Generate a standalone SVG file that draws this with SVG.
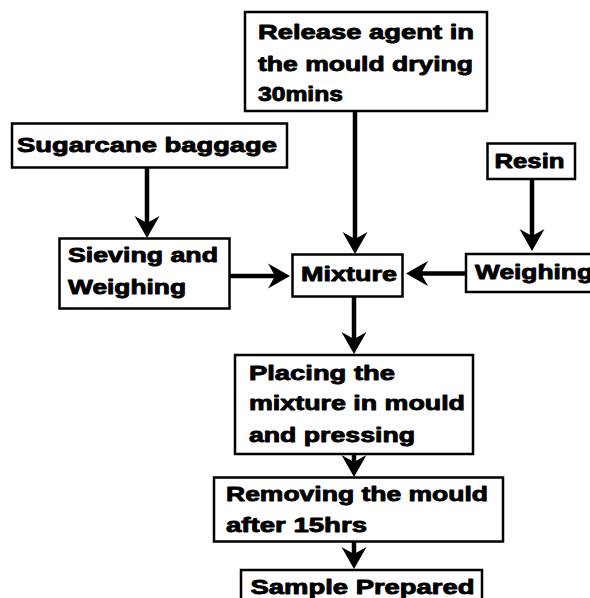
<svg xmlns="http://www.w3.org/2000/svg" width="590" height="598" viewBox="0 0 590 598">
<style>
.box{fill:#fff;stroke:#000;stroke-width:2.5}
.t{font-family:"Liberation Sans",Arial,sans-serif;font-weight:bold;font-size:21px;fill:#000;stroke:#000;stroke-width:0.9;stroke-linejoin:round}
.c{fill:none;stroke:#000;stroke-width:4.5}
</style>
<defs>
<marker id="ah" markerUnits="userSpaceOnUse" viewBox="-24 -14 25 28" markerWidth="25" markerHeight="28" refX="-14" refY="0" orient="auto">
<path d="M0,0 L-22,-12.5 L-15,0 L-22,12.5 Z" fill="#000"/>
</marker>
</defs>
<rect width="590" height="598" fill="#fff"/>
<g id="connectors">
<path class="c" d="M147,167 V224" marker-end="url(#ah)"/>
<path class="c" d="M355,111 V240" marker-end="url(#ah)"/>
<path class="c" d="M532,179 V237" marker-end="url(#ah)"/>
<path class="c" d="M229,276 H276" marker-end="url(#ah)"/>
<path class="c" d="M466,273.5 H420" marker-end="url(#ah)"/>
<path class="c" d="M354,297 V340" marker-end="url(#ah)"/>
<path class="c" d="M354,454 V463" marker-end="url(#ah)"/>
<path class="c" d="M354,542 V555" marker-end="url(#ah)"/>
</g>
<g id="release">
<rect class="box" x="245" y="12" width="242" height="99"/>
<text class="t" x="258" y="38.5" textLength="216" lengthAdjust="spacingAndGlyphs">Release agent in</text>
<text class="t" x="258" y="70.5" textLength="215" lengthAdjust="spacingAndGlyphs">the mould drying</text>
<text class="t" x="258" y="101" textLength="85" lengthAdjust="spacingAndGlyphs">30mins</text>
</g>
<g id="sugarcane">
<rect class="box" x="12" y="123.5" width="275" height="44"/>
<text class="t" x="17" y="152" textLength="260" lengthAdjust="spacingAndGlyphs">Sugarcane baggage</text>
</g>
<g id="sieving">
<rect class="box" x="59.5" y="238.5" width="170" height="70"/>
<text class="t" x="68" y="262" textLength="150" lengthAdjust="spacingAndGlyphs">Sieving and</text>
<text class="t" x="68" y="294" textLength="118" lengthAdjust="spacingAndGlyphs">Weighing</text>
</g>
<g id="mixture">
<rect class="box" x="292.5" y="254.5" width="110" height="42"/>
<text class="t" x="301" y="281" textLength="96" lengthAdjust="spacingAndGlyphs">Mixture</text>
</g>
<g id="resin">
<rect class="box" x="487.5" y="143.5" width="87.5" height="35.5"/>
<text class="t" x="494.5" y="167.5" textLength="70" lengthAdjust="spacingAndGlyphs">Resin</text>
</g>
<g id="weighing">
<rect class="box" x="466" y="254" width="130" height="38"/>
<text class="t" x="475" y="278.5" textLength="118" lengthAdjust="spacingAndGlyphs">Weighing</text>
</g>
<g id="placing">
<rect class="box" x="235" y="355" width="238" height="99"/>
<text class="t" x="249" y="379.5" textLength="146" lengthAdjust="spacingAndGlyphs">Placing the</text>
<text class="t" x="249" y="410" textLength="216" lengthAdjust="spacingAndGlyphs">mixture in mould</text>
<text class="t" x="249" y="441.5" textLength="166" lengthAdjust="spacingAndGlyphs">and pressing</text>
</g>
<g id="removing">
<rect class="box" x="214" y="477.5" width="289" height="64"/>
<text class="t" x="226" y="500.5" textLength="262" lengthAdjust="spacingAndGlyphs">Removing the mould</text>
<text class="t" x="226" y="532" textLength="141" lengthAdjust="spacingAndGlyphs">after 15hrs</text>
</g>
<g id="sample">
<rect class="box" x="241" y="570" width="241" height="40"/>
<text class="t" x="250.5" y="593.5" textLength="224" lengthAdjust="spacingAndGlyphs">Sample Prepared</text>
</g>
</svg>
